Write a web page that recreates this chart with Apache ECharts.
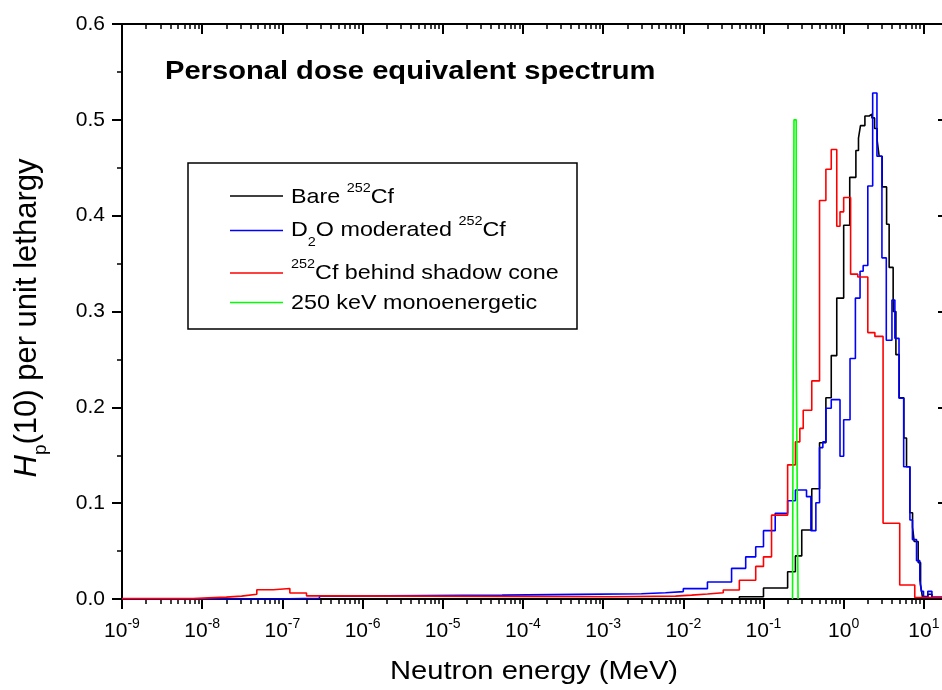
<!DOCTYPE html>
<html>
<head>
<meta charset="utf-8">
<script src="https://cdn.jsdelivr.net/npm/echarts@6/dist/echarts.min.js"></script>
<style>html,body{margin:0;padding:0;background:#fff}#chart{width:942px;height:690px}</style>
</head>
<body>
<div id="chart"></div>
<script>
// ---- axis ticks ----
const xTickValues = [1e-9, 1e-8, 1e-7, 1e-6, 1e-5, 1e-4, 1e-3, 1e-2, 1e-1, 1, 10];
const xTickExponents = ['-9', '-8', '-7', '-6', '-5', '-4', '-3', '-2', '-1', '0', '1'];
const yTickLabels = ['0.0', '0.1', '0.2', '0.3', '0.4', '0.5', '0.6'];

// ---- series: bin left edges (MeV) and H per unit lethargy ----
const bareE = [1e-9, 0.05, 0.1, 0.2, 0.25, 0.3, 0.4, 0.5, 0.6, 0.7, 0.82, 1.0, 1.19, 1.42, 1.53, 1.62, 1.84, 2.08, 2.25, 2.43, 2.62, 2.77, 3.02, 3.43, 3.69, 4.14, 4.48, 4.92, 5.63, 6.08, 6.69, 7.23, 7.57, 8.49, 9.1, 9.58, 11.2, 12.6, 20];
const bareH = [0, 0.0024, 0.0115, 0.0285, 0.045, 0.072, 0.115, 0.163, 0.21, 0.254, 0.314, 0.39, 0.44, 0.468, 0.481, 0.494, 0.504, 0.506, 0.502, 0.491, 0.478, 0.462, 0.43, 0.391, 0.346, 0.30, 0.255, 0.21, 0.168, 0.138, 0.09, 0.075, 0.06, 0.038, 0.015, 0.0025, 0.005, 0.001, 0.001];

const d2oE = [1e-9, 7.6e-8, 2.9e-7, 6.6e-7, 6.0e-6, 5.5e-5, 4.9e-4, 0.003, 0.006, 0.01, 0.02, 0.04, 0.06, 0.08, 0.1, 0.14, 0.2, 0.25, 0.344, 0.39, 0.45, 0.5, 0.55, 0.6, 0.7, 0.9, 1.0, 1.2, 1.4, 1.6, 1.75, 2.0, 2.3, 2.6, 3.0, 3.4, 4.0, 4.35, 4.9, 5.6, 6.7, 7.2, 8.1, 8.9, 9.3, 9.9, 11.2, 12.6, 20];
const d2oH = [0, 0.0008, 0.003, 0.0035, 0.004, 0.0048, 0.0055, 0.0066, 0.0077, 0.0108, 0.0177, 0.032, 0.044, 0.0546, 0.0713, 0.0894, 0.1026, 0.1138, 0.1068, 0.0713, 0.1005, 0.158, 0.164, 0.199, 0.208, 0.149, 0.187, 0.251, 0.314, 0.342, 0.348, 0.431, 0.528, 0.462, 0.356, 0.27, 0.312, 0.272, 0.2095, 0.138, 0.0825, 0.062, 0.04, 0.02, 0.008, 0.002, 0.008, 0.002, 0.002];

const coneE = [1e-9, 7.7e-9, 1.2e-8, 2e-8, 3.1e-8, 4.8e-8, 7.7e-8, 1.24e-7, 2e-7, 3.9e-7, 1.28e-3, 0.008, 0.01, 0.0127, 0.02, 0.0315, 0.05, 0.08, 0.1, 0.126, 0.2, 0.25, 0.284, 0.313, 0.4, 0.5, 0.6, 0.7, 0.82, 0.9, 1.0, 1.22, 1.5, 2.0, 2.45, 3.1, 5.0, 7.7, 20];
const coneH = [0.0004, 0.0012, 0.002, 0.003, 0.005, 0.0097, 0.011, 0.0062, 0.0033, 0.0024, 0.003, 0.0035, 0.004, 0.0052, 0.0066, 0.0094, 0.0195, 0.034, 0.044, 0.0875, 0.14, 0.164, 0.178, 0.197, 0.2276, 0.4158, 0.4485, 0.469, 0.389, 0.404, 0.419, 0.339, 0.336, 0.278, 0.274, 0.079, 0.0146, 0.0015, 0.0015];

const monoE = [0.23, 0.24, 0.256, 0.27];
const monoH = [0, 0.5, 0.25, 0];

const seriesNames = ['Bare 252Cf', 'D2O moderated 252Cf', '252Cf behind shadow cone', '250 keV monoenergetic'];
const seriesColors = ['#000000', '#0000ff', '#ff0000', '#00ff00'];

// minor tick positions 2..9 x 10^n
const xMinor = [];
for (let d = -9; d <= 1; d++) {
  for (let m = 2; m <= 9; m++) {
    const v = m * Math.pow(10, d);
    if (v <= 20) xMinor.push(v);
  }
}

const FONT = '"Liberation Sans", Arial, sans-serif';
const pairs = (E, H) => E.map((e, i) => [e, H[i]]);

function xLabel(v) {
  const lv = Math.log10(v);
  let best = 0, bd = 1e9;
  xTickValues.forEach((t, i) => { const d = Math.abs(Math.log10(t) - lv); if (d < bd) { bd = d; best = i; } });
  return '{b|10}{s|' + xTickExponents[best] + '}';
}

const chart = echarts.init(document.getElementById('chart'), null, { renderer: 'canvas' });

const xBase = { type: 'log', logBase: 10, min: 1e-9, max: 20, gridIndex: 0, splitLine: { show: false } };
const black = '#000';

const option = {
  animation: false,
  backgroundColor: '#fff',
  textStyle: { fontFamily: FONT },
  grid: { left: 122, top: 24, right: -6, bottom: 91, containLabel: false, outerBoundsMode: 'none' },
  xAxis: [
    Object.assign({}, xBase, {
      position: 'bottom',
      axisLine: { show: true, onZero: false, lineStyle: { color: black, width: 2 } },
      axisTick: { show: true, inside: false, length: 10, customValues: xTickValues, lineStyle: { color: black, width: 2 } },
      axisLabel: {
        show: true, margin: 18, customValues: xTickValues, formatter: xLabel,
        rich: {
          b: { fontSize: 21, fontFamily: FONT, color: black, lineHeight: 28 },
          s: { fontSize: 14, fontFamily: FONT, color: black, verticalAlign: 'top' }
        }
      }
    }),
    Object.assign({}, xBase, {
      position: 'bottom',
      axisLine: { show: false, onZero: false },
      axisTick: { show: true, inside: false, length: 5, customValues: xMinor, lineStyle: { color: black, width: 1.5 } },
      axisLabel: { show: false }
    }),
    Object.assign({}, xBase, {
      position: 'top',
      axisLine: { show: true, onZero: false, lineStyle: { color: black, width: 2 } },
      axisTick: { show: true, inside: true, length: 10, customValues: xTickValues, lineStyle: { color: black, width: 2 } },
      axisLabel: { show: false }
    }),
    Object.assign({}, xBase, {
      position: 'top',
      axisLine: { show: false, onZero: false },
      axisTick: { show: true, inside: true, length: 5, customValues: xMinor, lineStyle: { color: black, width: 1.5 } },
      axisLabel: { show: false }
    })
  ],
  yAxis: [
    {
      type: 'value', min: 0, max: 0.6, interval: 0.1, position: 'left',
      axisLine: { show: true, onZero: false, lineStyle: { color: black, width: 2 } },
      axisTick: { show: true, inside: false, length: 10, lineStyle: { color: black, width: 2 } },
      minorTick: { show: true, splitNumber: 2, length: 5, lineStyle: { color: black, width: 1.5 } },
      axisLabel: { show: true, margin: 17, fontSize: 21, fontFamily: FONT, color: black, formatter: v => yTickLabels[Math.round(v * 10)] },
      splitLine: { show: false }
    },
    {
      type: 'value', min: 0, max: 0.6, interval: 0.1, position: 'right',
      axisLine: { show: true, onZero: false, lineStyle: { color: black, width: 2 } },
      axisTick: { show: true, inside: true, length: 10, lineStyle: { color: black, width: 2 } },
      axisLabel: { show: false },
      splitLine: { show: false }
    }
  ],
  series: [
    { data: pairs(bareE, bareH) },
    { data: pairs(d2oE, d2oH) },
    { data: pairs(coneE, coneH) },
    { data: pairs(monoE, monoH) }
  ].map((s, i) => Object.assign(s, {
    name: seriesNames[i], type: 'line', step: 'end', xAxisIndex: 0, yAxisIndex: 0,
    symbol: 'none', showSymbol: false, silent: true, z: 2 + i,
    lineStyle: { color: seriesColors[i], width: 1.6 }, itemStyle: { color: seriesColors[i] }
  })),
  graphic: [
    { type: 'text', x: 165, y: 72, scaleX: 1.12,
      style: { text: 'Personal dose equivalent spectrum', fontSize: 26, fontWeight: 'bold', fontFamily: FONT, fill: black, align: 'left', verticalAlign: 'middle' } },
    { type: 'rect', shape: { x: 188, y: 163, width: 389, height: 166 }, style: { fill: '#fff', stroke: black, lineWidth: 1.5 }, z: 10 },
    { type: 'line', shape: { x1: 230, y1: 196, x2: 283, y2: 196 }, style: { stroke: seriesColors[0], lineWidth: 1.5 }, z: 11 },
    { type: 'line', shape: { x1: 230, y1: 230.5, x2: 283, y2: 230.5 }, style: { stroke: seriesColors[1], lineWidth: 1.5 }, z: 11 },
    { type: 'line', shape: { x1: 230, y1: 273, x2: 283, y2: 273 }, style: { stroke: seriesColors[2], lineWidth: 1.5 }, z: 11 },
    { type: 'line', shape: { x1: 230, y1: 302.5, x2: 283, y2: 302.5 }, style: { stroke: seriesColors[3], lineWidth: 1.5 }, z: 11 },
    ...[
      ['Bare {sup|252}Cf', 197.5],
      ['D{sub|2}O moderated {sup|252}Cf', 230.5],
      ['{sup|252}Cf behind shadow cone', 273.5],
      ['250 keV monoenergetic', 303.5]
    ].map(([t, y]) => ({
      type: 'text', x: 291, y: y, scaleX: 1.11, z: 11,
      style: {
        text: t, fontSize: 21, fontFamily: FONT, fill: black, align: 'left', verticalAlign: 'middle',
        rich: {
          sup: { fontSize: 13, fontFamily: FONT, fill: black, verticalAlign: 'top', padding: [2, 0, 0, 0] },
          sub: { fontSize: 13, fontFamily: FONT, fill: black, verticalAlign: 'bottom' }
        },
        lineHeight: 36
      }
    })),
    { type: 'text', x: 534, y: 672, scaleX: 1.12,
      style: { text: 'Neutron energy (MeV)', fontSize: 26, fontFamily: FONT, fill: black, align: 'center', verticalAlign: 'middle' } },
    { type: 'text', x: 27, y: 318, rotation: Math.PI / 2,
      style: {
        text: '{i|H}{sub|p}(10) per unit lethargy', fontSize: 31, fontFamily: FONT, fill: black, align: 'center', verticalAlign: 'middle', lineHeight: 46,
        rich: {
          i: { fontSize: 31, fontStyle: 'italic', fontFamily: FONT, fill: black },
          sub: { fontSize: 19, fontFamily: FONT, fill: black, verticalAlign: 'bottom' }
        }
      } }
  ]
};

chart.setOption(option);
</script>
</body>
</html>
